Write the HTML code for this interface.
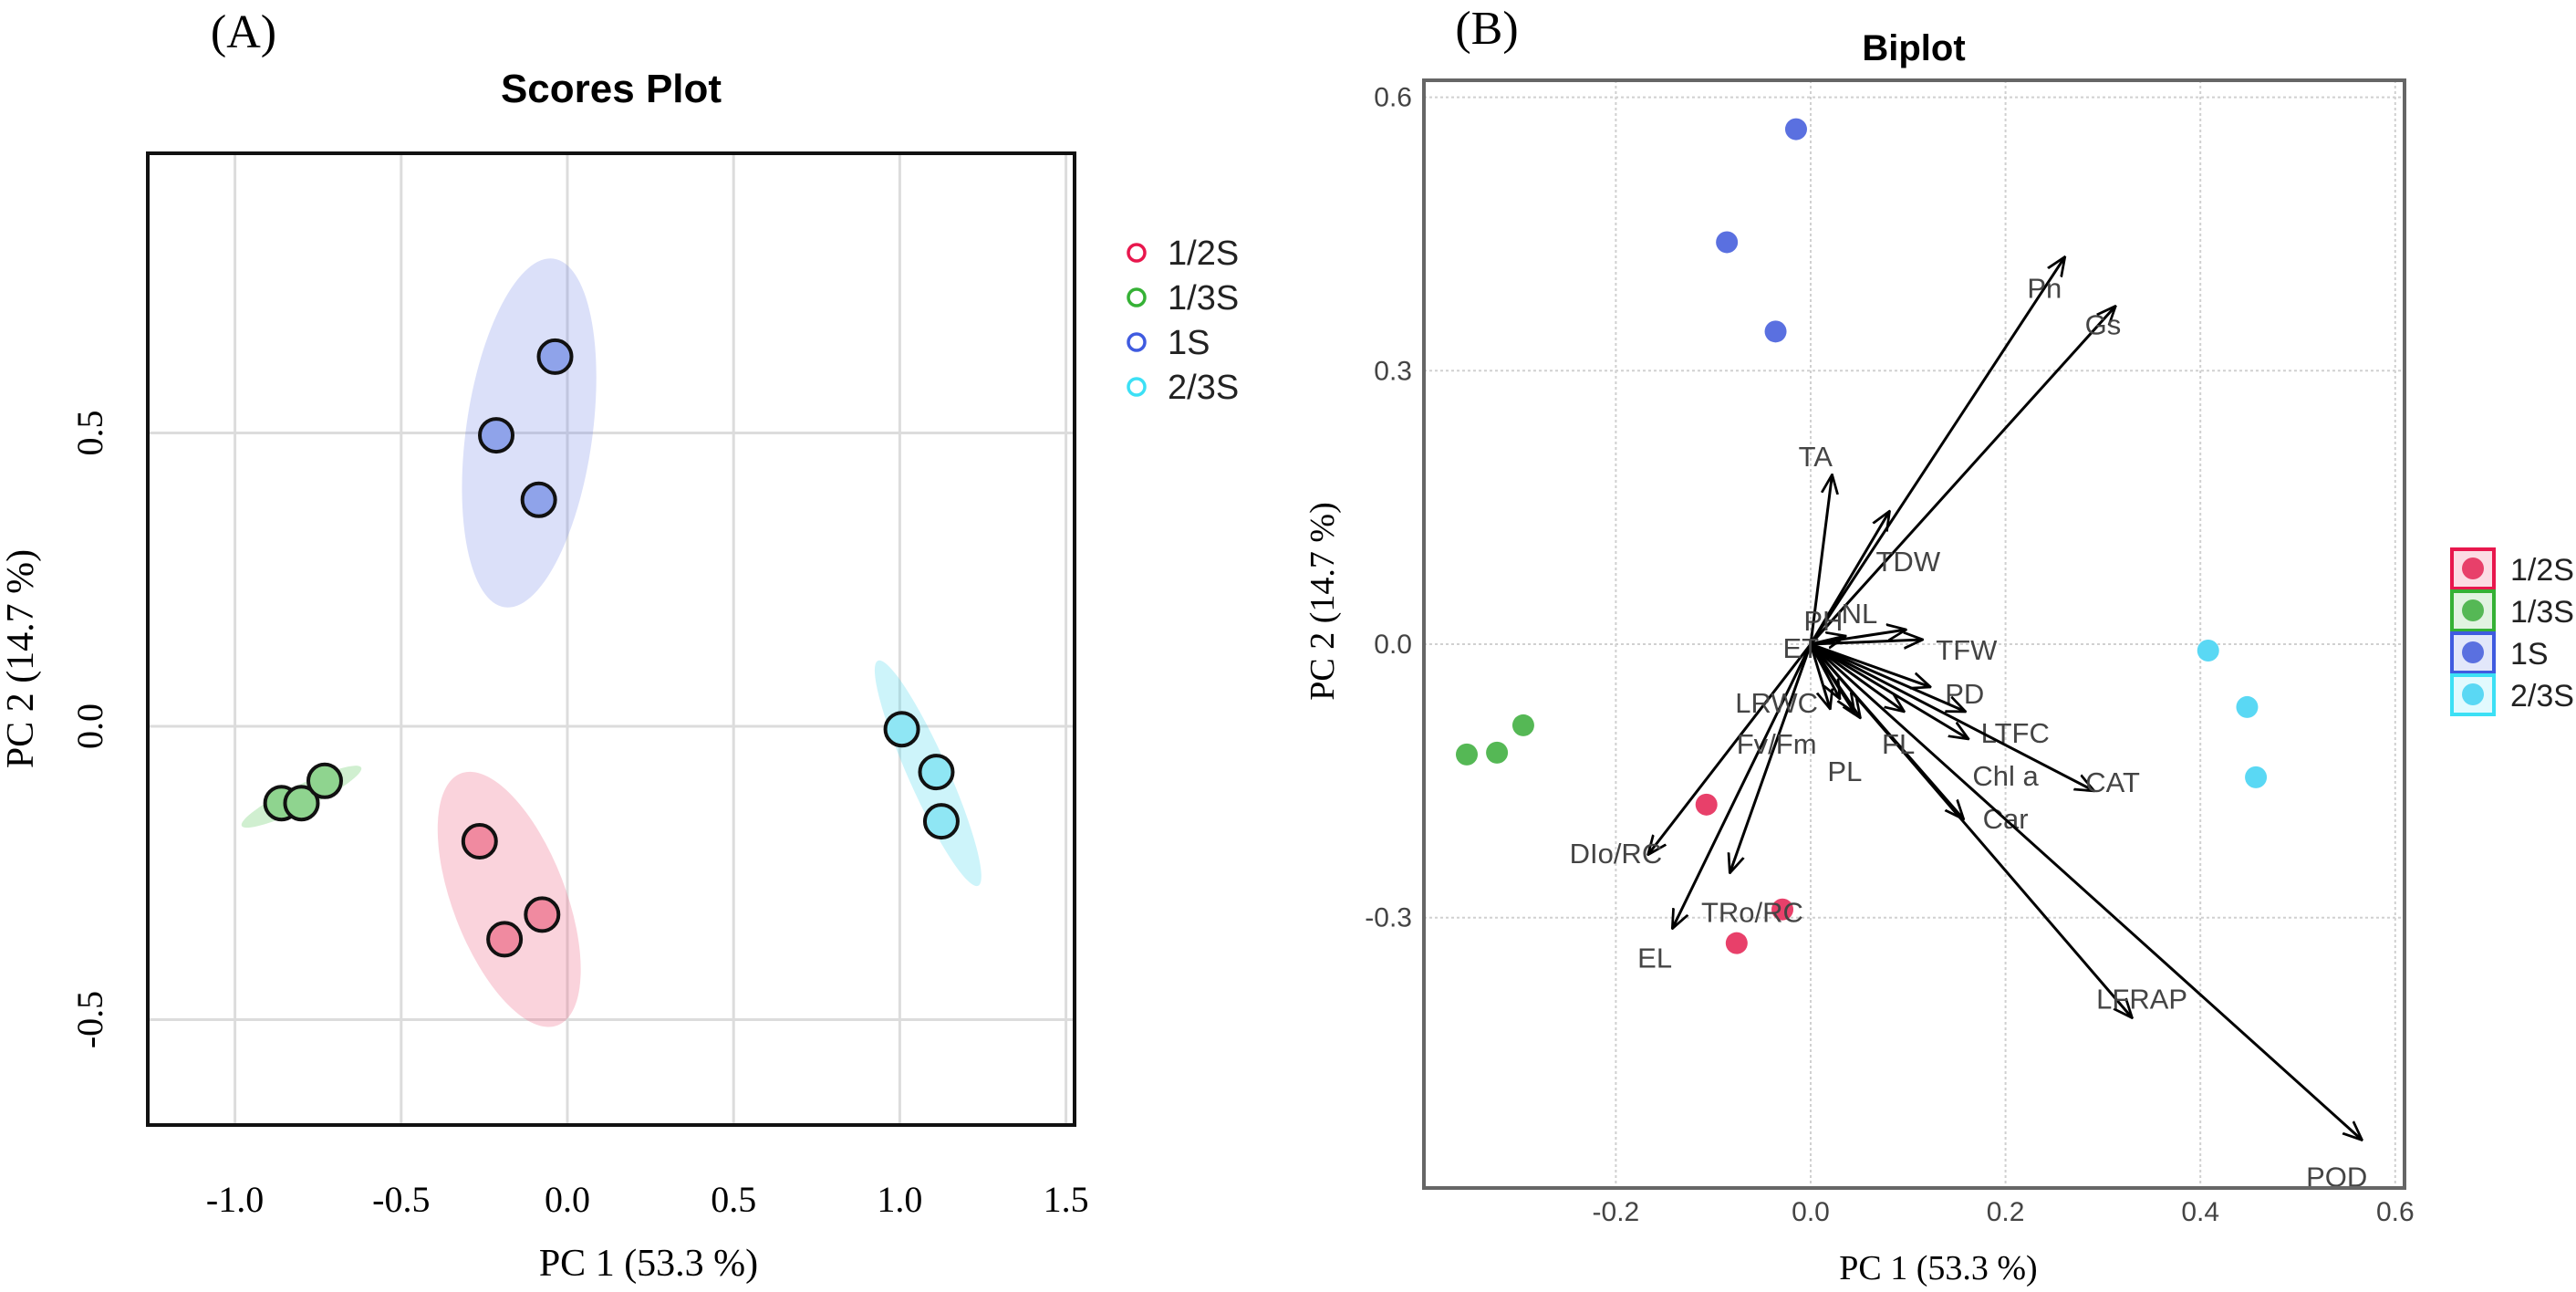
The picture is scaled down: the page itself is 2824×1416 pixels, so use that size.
<!DOCTYPE html>
<html><head><meta charset="utf-8"><style>
html,body{margin:0;padding:0;background:#fff;}
svg{display:block;}
.serif{font-family:"Liberation Serif",serif;}
.sans{font-family:"Liberation Sans",sans-serif;}
</style></head><body>
<svg id="chart" width="2824" height="1416" viewBox="0 0 2824 1416" xmlns="http://www.w3.org/2000/svg">
<text x="267" y="52" class="serif" font-size="52" text-anchor="middle">(A)</text>
<text x="670" y="112" class="sans" font-size="44" font-weight="bold" text-anchor="middle">Scores Plot</text>
<text x="1630" y="48" class="serif" font-size="52" text-anchor="middle">(B)</text>
<text x="2098" y="66" class="sans" font-size="40" font-weight="bold" text-anchor="middle">Biplot</text>
<g id="left"></g>
<g id="right"></g>
</svg>
<script>
// ---- Scores plot data ----
const groups = ["1/2S","1/3S","1S","2/3S"];
const scoreX_12S = [-0.264,-0.076,-0.189];
const scoreY_12S = [-0.196,-0.321,-0.363];
const scoreX_13S = [-0.86,-0.80,-0.73];
const scoreY_13S = [-0.131,-0.131,-0.093];
const scoreX_1S = [-0.037,-0.214,-0.086];
const scoreY_1S = [0.63,0.496,0.386];
const scoreX_23S = [1.006,1.110,1.125];
const scoreY_23S = [-0.005,-0.078,-0.162];
const ellipseCX = [-0.175,-0.80,-0.115,1.085];
const ellipseCY = [-0.295,-0.12,0.50,-0.08];
const ellipseRX = [0.17,0.20,0.19,0.06];
const ellipseRY = [0.23,0.02,0.30,0.21];
const ellipseAngle = [-21,-26,8,-24];
const leftXTicks = [-1.0,-0.5,0.0,0.5,1.0,1.5];
const leftYTicks = [-0.5,0.0,0.5];
// ---- Biplot data ----
const bipX_12S = [-0.107,-0.029,-0.076];
const bipY_12S = [-0.176,-0.291,-0.328];
const bipX_13S = [-0.353,-0.322,-0.295];
const bipY_13S = [-0.121,-0.119,-0.089];
const bipX_1S = [-0.015,-0.086,-0.036];
const bipY_1S = [0.565,0.441,0.343];
const bipX_23S = [0.408,0.448,0.457];
const bipY_23S = [-0.007,-0.069,-0.146];
const varNames = ["Pn","Gs","TA","TDW","PH","NL","TFW","PD","LTFC","CAT","Chl a","Car","LFRAP","POD","EL","TRo/RC","DIo/RC","LRWC","Fv/Fm","PL","FL","ET"];
const loadX = [0.261,0.313,0.022,0.081,0.036,0.098,0.115,0.123,0.159,0.291,0.162,0.157,0.330,0.566,-0.142,-0.083,-0.167,0.02,0.045,0.051,0.096,0.03];
const loadY = [0.425,0.371,0.186,0.146,0.009,0.016,0.005,-0.047,-0.074,-0.161,-0.104,-0.192,-0.410,-0.544,-0.312,-0.251,-0.231,-0.071,-0.075,-0.081,-0.074,-0.06];
const labelX = [0.24,0.30,0.005,0.10,0.013,0.05,0.16,0.158,0.21,0.31,0.20,0.20,0.34,0.54,-0.16,-0.06,-0.20,-0.035,-0.035,0.035,0.09,-0.01];
const labelY = [0.39,0.35,0.205,0.09,0.025,0.033,-0.007,-0.055,-0.098,-0.152,-0.145,-0.192,-0.390,-0.585,-0.345,-0.295,-0.230,-0.065,-0.110,-0.140,-0.110,-0.005];
const rightXTicks = [-0.2,0.0,0.2,0.4,0.6];
const rightYTicks = [-0.3,0.0,0.3,0.6];

const NS="http://www.w3.org/2000/svg";
function mk(parent,tag,attrs,text){const e=document.createElementNS(NS,tag);for(const k in attrs)e.setAttribute(k,attrs[k]);if(text!==undefined)e.textContent=text;parent.appendChild(e);return e;}

// ---- Left panel ----
const L=document.getElementById('left');
const lx=v=>622+v*364.4, ly=v=>796-v*643;
const LB={x0:162,x1:1178,y0:168,y1:1233};
leftXTicks.forEach(t=>{
  const g=mk(L,'line',{x1:lx(t),x2:lx(t),y1:LB.y0,y2:LB.y1,stroke:'#dcdcdc','stroke-width':3});
  
  
  const tx=mk(L,'text',{x:lx(t),y:1328,'font-size':40,'text-anchor':'middle',class:'serif'},t.toFixed(1));
  
  
});
leftYTicks.forEach(t=>{
  const g=mk(L,'line',{x1:LB.x0,x2:LB.x1,y1:ly(t),y2:ly(t),stroke:'#dcdcdc','stroke-width':3});
  
  
  const tx=mk(L,'text',{x:0,y:0,'font-size':40,'text-anchor':'middle',class:'serif',transform:`translate(112,${ly(t)}) rotate(-90)`},t.toFixed(1));
  
  
});
const fillE=['rgba(240,110,140,0.30)','rgba(120,210,120,0.35)','rgba(110,130,230,0.25)','rgba(90,220,240,0.30)'];
const ptFill=['#f08aa0','#8fd48f','#8fa3ea','#8fe6f4'];
const legC=['#e8174d','#35b135','#3f5be0','#3ce0f5'];
const biFill=['#e8406a','#55b855','#5a70e0','#5ad8f4'];
groups.forEach((g,i)=>{
  const cx=lx(ellipseCX[i]),cy=ly(ellipseCY[i]);
  const e=mk(L,'ellipse',{cx:cx,cy:cy,rx:ellipseRX[i]*364.4,ry:ellipseRY[i]*643,fill:fillE[i],transform:`rotate(${ellipseAngle[i]} ${cx} ${cy})`});
  
  
});
const LXs=[scoreX_12S,scoreX_13S,scoreX_1S,scoreX_23S], LYs=[scoreY_12S,scoreY_13S,scoreY_1S,scoreY_23S];
groups.forEach((g,i)=>{
  LXs[i].forEach((v,j)=>{
    const c=mk(L,'ellipse',{cx:lx(v),cy:ly(LYs[i][j]),rx:18,ry:18,fill:ptFill[i],stroke:'#111','stroke-width':4});
    
    
  });
});
mk(L,'rect',{x:LB.x0,y:LB.y0,width:LB.x1-LB.x0,height:LB.y1-LB.y0,fill:'none',stroke:'#111','stroke-width':4});
const lt=mk(L,'text',{x:711,y:1398,'font-size':42,'text-anchor':'middle',class:'serif'},'PC 1 (53.3 %)');


const lyt=mk(L,'text',{x:0,y:0,'font-size':42,'text-anchor':'middle',class:'serif',transform:'translate(36,722) rotate(-90)'},'PC 2 (14.7 %)');


groups.forEach((g,i)=>{
  const y=277+i*49;
  const c=mk(L,'circle',{cx:1246,cy:y,r:9,fill:'none',stroke:legC[i],'stroke-width':3.5});
  
  
  const t=mk(L,'text',{x:1280,y:y+13,'font-size':38,class:'sans',fill:'#222'},g);
  
  
});

// ---- Right panel ----
const R=document.getElementById('right');
const rx=v=>1985+v*1068, ry=v=>706-v*999;
const RB={x0:1561,x1:2636,y0:88,y1:1302};
rightXTicks.forEach(t=>{
  const g=mk(R,'line',{x1:rx(t),x2:rx(t),y1:RB.y0,y2:RB.y1,stroke:'#d0d0d0','stroke-width':2,'stroke-dasharray':'3,3'});
  
  
  const tx=mk(R,'text',{x:rx(t),y:1338,'font-size':30,'text-anchor':'middle',class:'sans',fill:'#444'},t.toFixed(1));
  
  
});
rightYTicks.forEach(t=>{
  const g=mk(R,'line',{x1:RB.x0,x2:RB.x1,y1:ry(t),y2:ry(t),stroke:'#d0d0d0','stroke-width':2,'stroke-dasharray':'3,3'});
  
  
  const tx=mk(R,'text',{x:1548,y:ry(t)+10,'font-size':30,'text-anchor':'end',class:'sans',fill:'#444'},t.toFixed(1));
  
  
});
const defs=mk(R,'defs',{});
const mk2=mk(defs,'marker',{id:'ah2',viewBox:'0 0 20 20',refX:19,refY:10,markerWidth:22,markerHeight:22,orient:'auto',markerUnits:'userSpaceOnUse'});
mk(mk2,'path',{d:'M0,2 L19,10 L0,18',fill:'none',stroke:'#000','stroke-width':2.5});
const RXs=[bipX_12S,bipX_13S,bipX_1S,bipX_23S], RYs=[bipY_12S,bipY_13S,bipY_1S,bipY_23S];
groups.forEach((g,i)=>{
  RXs[i].forEach((v,j)=>{
    const c=mk(R,'circle',{cx:rx(v),cy:ry(RYs[i][j]),r:12,fill:biFill[i]});
    
    
  });
});
varNames.forEach((n,i)=>{
  const a=mk(R,'line',{x1:rx(0),y1:ry(0),x2:rx(loadX[i]),y2:ry(loadY[i]),stroke:'#000','stroke-width':3,'marker-end':'url(#ah2)'});
  
  
  const t=mk(R,'text',{x:rx(labelX[i]),y:ry(labelY[i])+10,'font-size':31,'text-anchor':'middle',class:'sans',fill:'#444'},n);
  
  
});
mk(R,'rect',{x:RB.x0,y:RB.y0,width:RB.x1-RB.x0,height:RB.y1-RB.y0,fill:'none',stroke:'#666','stroke-width':4});
const rt=mk(R,'text',{x:2125,y:1402,'font-size':38,'text-anchor':'middle',class:'serif'},'PC 1 (53.3 %)');


const ryt=mk(R,'text',{x:0,y:0,'font-size':38,'text-anchor':'middle',class:'serif',transform:'translate(1462,659) rotate(-90)'},'PC 2 (14.7 %)');


const legBg=['rgba(232,23,77,0.15)','rgba(53,177,53,0.15)','rgba(63,91,224,0.15)','rgba(60,224,245,0.15)'];
groups.forEach((g,i)=>{
  const y=602+i*46;
  const b=mk(R,'rect',{x:2688,y:y,width:46,height:43,fill:legBg[i],stroke:legC[i],'stroke-width':4});
  
  
  const c=mk(R,'circle',{cx:2711,cy:y+21,r:12,fill:biFill[i]});
  
  
  const t=mk(R,'text',{x:2752,y:y+34,'font-size':34,class:'sans',fill:'#222'},g);
  
  
});
</script>
</body></html>
